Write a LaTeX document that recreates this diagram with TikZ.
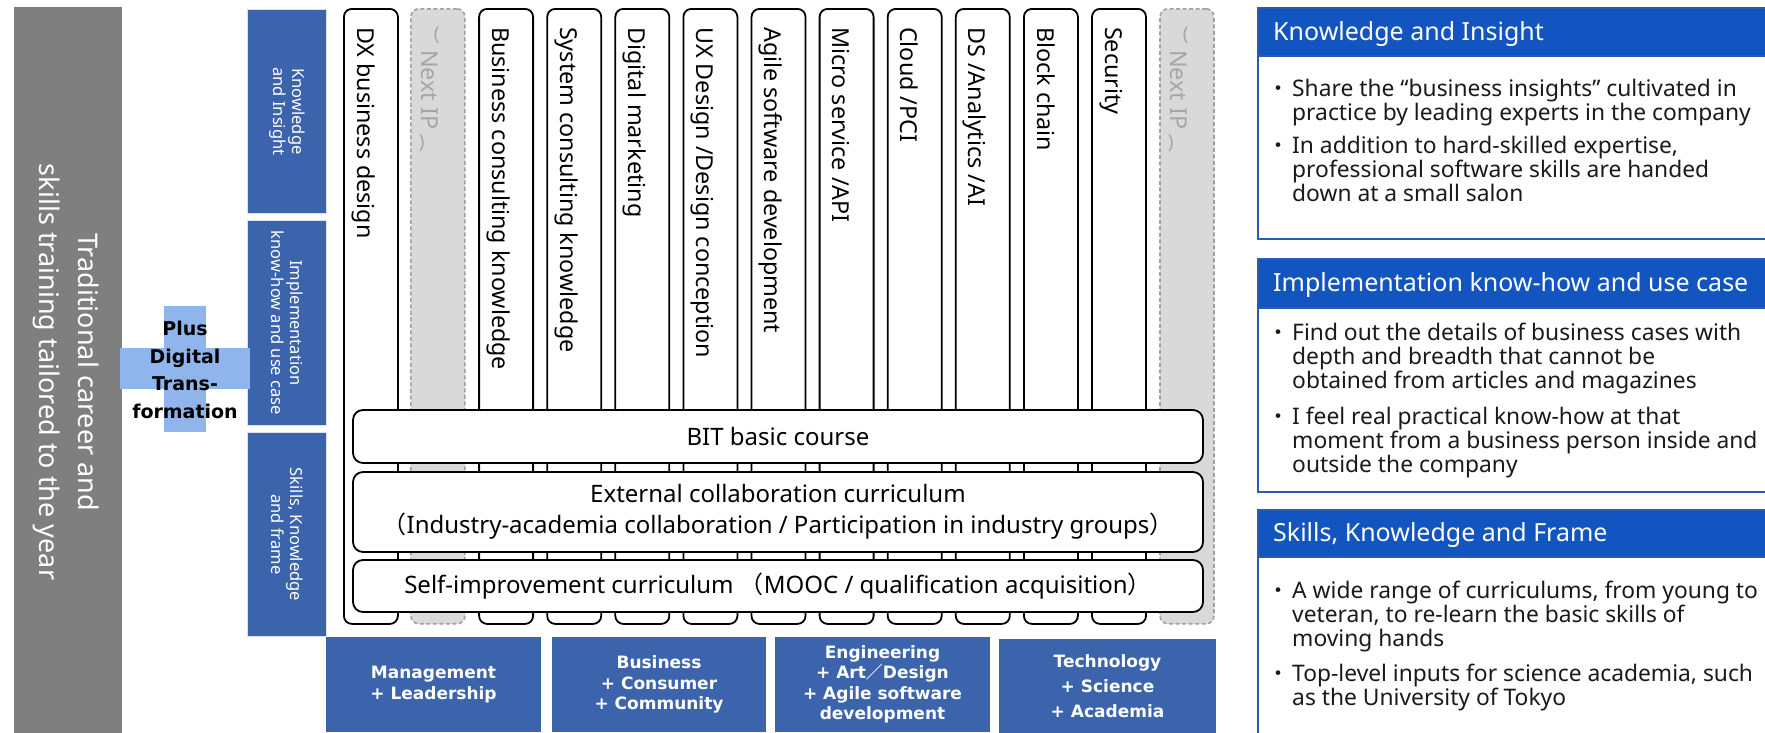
\documentclass[tikz,border=0pt]{standalone}
\usepackage{fontspec}
\setmainfont{Noto Sans}
\newfontfamily\cjk{Noto Sans CJK JP}
\newfontfamily\dvs{DejaVu Sans}
\definecolor{graybar}{HTML}{7F7F7F}
\definecolor{lblblue}{HTML}{3C64AC}
\definecolor{crossblue}{HTML}{8FB5EC}
\definecolor{hdrblue}{HTML}{1254C0}
\definecolor{panelline}{HTML}{2A5DAF}
\definecolor{nextfill}{HTML}{D9D9D9}
\definecolor{nextline}{HTML}{A0A0A0}
\definecolor{nexttxt}{HTML}{A6A6A6}
\definecolor{bodycol}{HTML}{1A1A1A}
\tikzset{
 colbox/.style={draw=black, line width=1.8pt, fill=white, rounded corners=8pt, minimum width=54pt, minimum height=615pt, anchor=north west, inner sep=0pt},
 nextbox/.style={draw=nextline, dash pattern=on 4pt off 2.5pt, line width=1.6pt, fill=nextfill, rounded corners=8pt, minimum width=54pt, minimum height=615pt, anchor=north west, inner sep=0pt},
 coltext/.style={rotate=-90, anchor=base west, inner sep=0pt, font=\fontsize{23.3}{27}\selectfont},
 nexttext/.style={coltext, text=nexttxt},
 nextparen/.style={text=nexttxt, inner sep=0pt, font=\fontsize{19}{19}\selectfont},
 barbox/.style={draw=black, line width=1.8pt, fill=white, rounded corners=10pt, minimum width=850pt, align=center, font=\fontsize{24}{31}\selectfont, inner sep=0pt},
 lblbox/.style={fill=lblblue, draw=white!80!lblblue, line width=0.8pt, minimum width=79pt, anchor=north west, inner sep=0pt},
 lbltext/.style={rotate=-90, text=white, align=center, font=\fontsize{16.5}{19}\selectfont, inner sep=0pt},
 botbox/.style={fill=lblblue, minimum height=95pt, text=white, align=center, font=\dvs\bfseries\fontsize{17}{20.5}\selectfont, inner sep=0pt},
 panelbox/.style={draw=panelline, line width=1.5pt, fill=white, anchor=north west, minimum width=530pt, inner sep=0pt},
 hdrbox/.style={fill=hdrblue, draw=panelline, line width=1.5pt, anchor=north west, minimum width=530pt, minimum height=48pt, inner sep=0pt},
 titletext/.style={text=white, anchor=base west, inner sep=0pt, font=\fontsize{25}{30}\selectfont},
 bodytext/.style={anchor=base west, inner sep=0pt, font=\fontsize{22.8}{24}\selectfont, text=bodycol},
 bullettext/.style={anchor=base east, inner sep=0pt, font=\cjk\fontsize{22}{24}\selectfont, text=bodycol},
 crossbox/.style={fill=crossblue, inner sep=0pt},
}
\newcommand\mycol[3]{%
  \node[colbox] (col#1) at (#2,8) {};
  \node[coltext] (colt#1) at (#2+14,27) {#3};
}
\newcommand\mynext[2]{%
  \node[nextbox] (col#1) at (#2,8) {};
  \node[nexttext] (colt#1) at (#2+11,50) {Next IP};
  \node[nextparen] (colpa#1) at (#2+26.5,35) {(};
  \node[nextparen] (colpb#1) at (#2+11.5,143) {)};
}
\newcommand\bl[3]{\node[bodytext] (#1) at (1292,#2) {#3};}
\newcommand\bu[2]{\node[bullettext] (#1) at (1290,#2) {・};}
\begin{document}
\begin{tikzpicture}[x=1pt,y=-1pt]
\useasboundingbox (0,0) rectangle (1765,732);
\fill[white] (0,0) rectangle (1765,732);

% gray bar
\node[fill=graybar, anchor=north west, minimum width=108pt, minimum height=726pt, inner sep=0pt] (gray) at (14,7) {};
\node[rotate=-90, text=white, align=center, inner sep=0pt, font=\fontsize{27}{39}\selectfont] (graytext) at (66,372) {Traditional career and\\skills training tailored to the year};

% left labels
\node[lblbox, minimum height=204pt] (lbl1) at (247,9) {};
\node[lblbox, minimum height=205pt] (lbl2) at (247,220) {};
\node[lblbox, minimum height=204pt] (lbl3) at (247,432) {};
\node[lbltext] (lblt1) at (lbl1.center) {Knowledge\\and Insight};
\node[lbltext] (lblt2) at (lbl2.center) {Implementation\\know-how and use case};
\node[lbltext] (lblt3) at (lbl3.center) {Skills, Knowledge\\and frame};

% cross
\node[crossbox, minimum width=130pt, minimum height=41pt] (crossh) at (185,368.5) {};
\node[crossbox, minimum width=42pt, minimum height=126pt] (crossv) at (185,369) {};
\node[align=center, inner sep=0pt, font=\dvs\bfseries\fontsize{19}{27.5}\selectfont] (plus) at (185,370) {Plus\\Digital\\Trans-\\formation};

% columns
\mycol{0}{343}{DX business design}
\mynext{1}{410.1}
\mycol{2}{478.2}{Business consulting knowledge}
\mycol{3}{546.3}{System consulting knowledge}
\mycol{4}{614.4}{Digital marketing}
\mycol{5}{682.5}{UX Design /Design conception}
\mycol{6}{750.6}{Agile software development}
\mycol{7}{818.7}{Micro service /API}
\mycol{8}{886.8}{Cloud /PCI}
\mycol{9}{954.9}{DS /Analytics /AI}
\mycol{10}{1023}{Block chain}
\mycol{11}{1091.1}{Security}
\mynext{12}{1159.2}

% horizontal bars
\node[barbox, minimum height=53pt] (bit) at (778,436.5) {BIT basic course};
\node[barbox, minimum height=80pt] (ext) at (778,512) {External collaboration curriculum\\{\cjk （}Industry-academia collaboration / Participation in industry groups{\cjk ）}};
\node[barbox, minimum height=52pt] (self) at (778,586) {Self-improvement curriculum {\cjk （}MOOC / qualification acquisition{\cjk ）}};

% bottom boxes
\node[botbox, minimum width=215pt] (b1) at (433.5,684.5) {Management\\+ Leadership};
\node[botbox, minimum width=214pt] (b2) at (659,684.5) {Business\\+ Consumer\\+ Community};
\node[botbox, minimum width=215pt] (b3) at (882.5,684.5) {Engineering\\+ Art{\cjk ／}Design\\+ Agile software\\development};
\node[botbox, minimum width=217pt, font=\dvs\bfseries\fontsize{17}{25}\selectfont] (b4) at (1107.5,686) {Technology\\+ Science\\+ Academia};

% right panels
\node[panelbox, minimum height=231pt] (p1) at (1257,7) {};
\node[hdrbox] (h1) at (1257,7) {};
\node[titletext] (t1) at (1273,40) {Knowledge and Insight};
\bu{p1b1}{96}\bl{p1l1}{96}{Share the “business insights” cultivated in}
\bl{p1l2}{120}{practice by leading experts in the company}
\bu{p1b2}{153}\bl{p1l3}{153}{In addition to hard-skilled expertise,}
\bl{p1l4}{177}{professional software skills are handed}
\bl{p1l5}{201}{down at a small salon}

\node[panelbox, minimum height=233pt] (p2) at (1257,258) {};
\node[hdrbox, minimum height=49pt] (h2) at (1257,258) {};
\node[titletext] (t2) at (1273,291) {Implementation know-how and use case};
\bu{p2b1}{340}\bl{p2l1}{340}{Find out the details of business cases with}
\bl{p2l2}{364}{depth and breadth that cannot be}
\bl{p2l3}{388}{obtained from articles and magazines}
\bu{p2b2}{424}\bl{p2l4}{424}{I feel real practical know-how at that}
\bl{p2l5}{448}{moment from a business person inside and}
\bl{p2l6}{472}{outside the company}

\node[panelbox, minimum height=240pt] (p3) at (1257,509) {};
\node[hdrbox, minimum height=47pt] (h3) at (1257,509) {};
\node[titletext] (t3) at (1273,541) {Skills, Knowledge and Frame};
\bu{p3b1}{598}\bl{p3l1}{598}{A wide range of curriculums, from young to}
\bl{p3l2}{622}{veteran, to re-learn the basic skills of}
\bl{p3l3}{646}{moving hands}
\bu{p3b2}{681}\bl{p3l4}{681}{Top-level inputs for science academia, such}
\bl{p3l5}{705}{as the University of Tokyo}
\end{tikzpicture}
\end{document}
